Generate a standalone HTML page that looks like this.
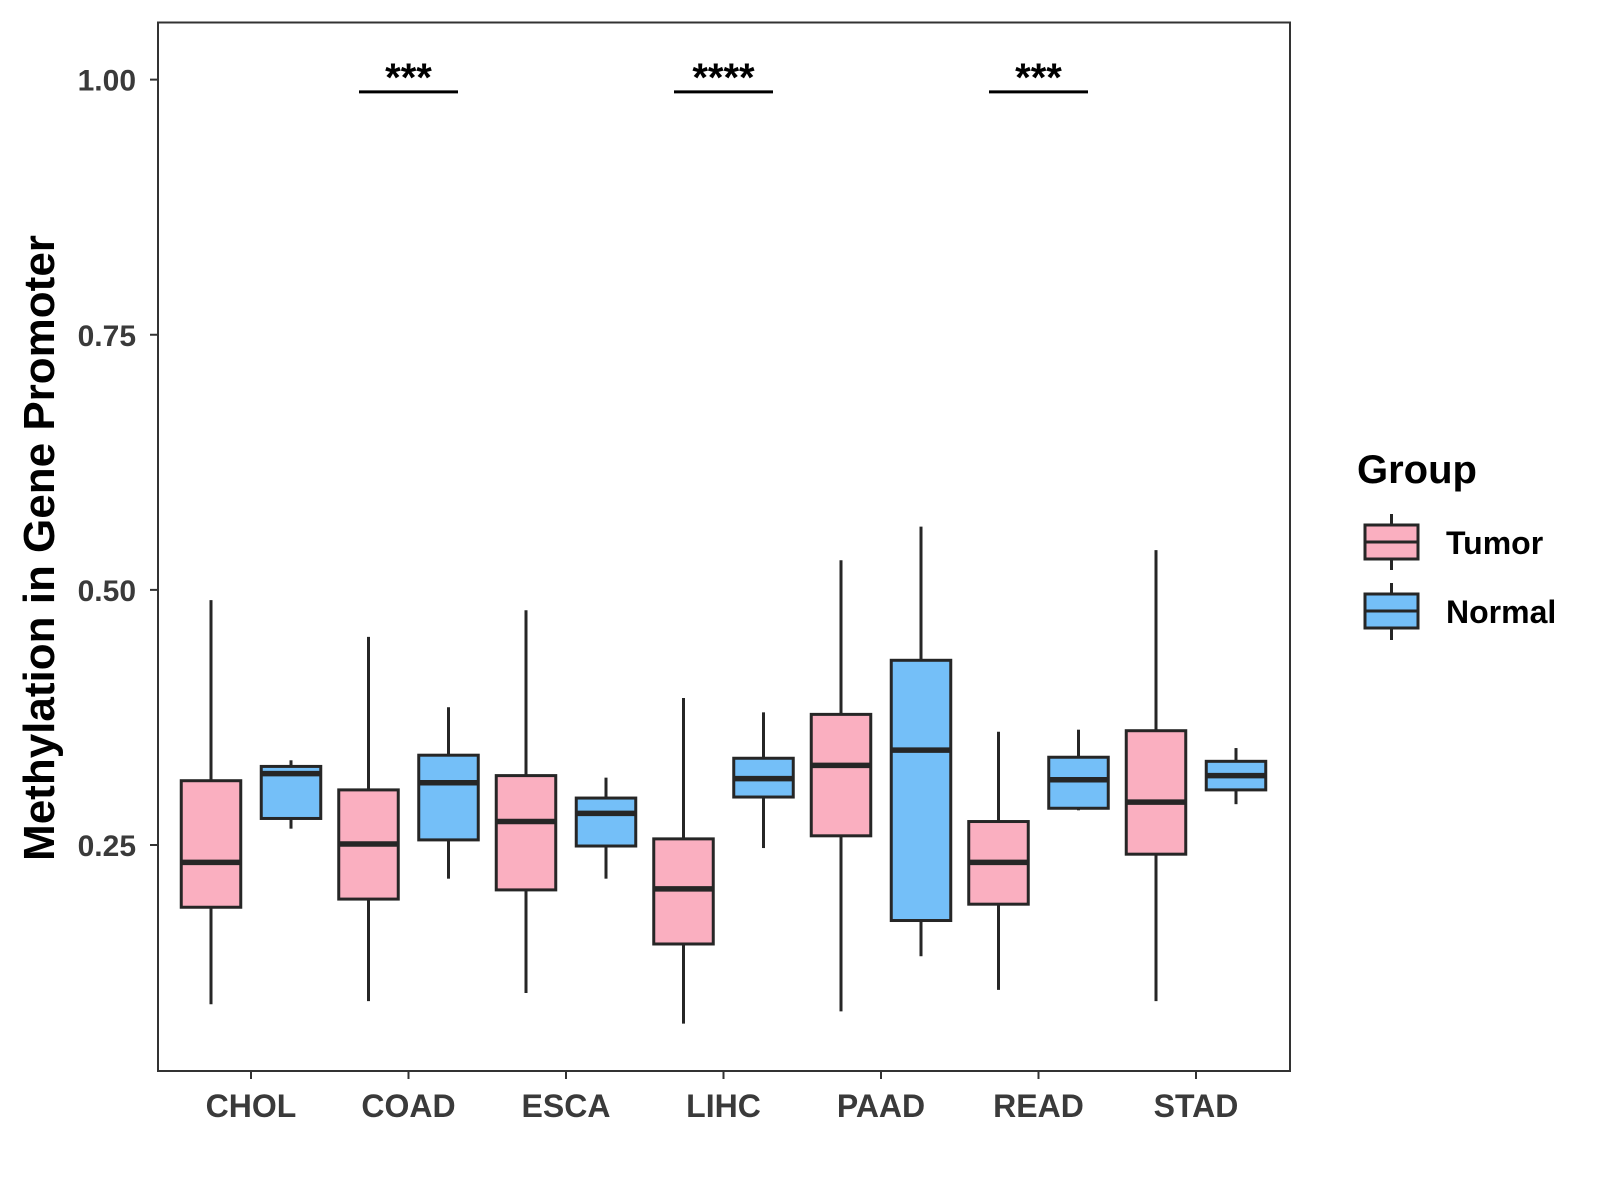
<!DOCTYPE html>
<html><head><meta charset="utf-8"><style>body{margin:0;background:#fff}svg{display:block}text{font-family:"Liberation Sans",Arial,sans-serif;font-weight:bold}</style></head>
<body>
<svg id="chart" width="1600" height="1200">
<g id="plot"></g>
</svg>
<script>
const categories=["CHOL","COAD","ESCA","LIHC","PAAD","READ","STAD"];
// [low, q1, median, q3, high]
const tumorStats=[[0.094,0.189,0.233,0.313,0.49],[0.097,0.197,0.251,0.304,0.454],[0.105,0.206,0.273,0.318,0.48],[0.075,0.153,0.207,0.256,0.394],[0.087,0.259,0.328,0.378,0.529],[0.108,0.192,0.233,0.273,0.361],[0.097,0.241,0.292,0.362,0.539]];
const normalStats=[[0.266,0.276,0.32,0.327,0.333],[0.217,0.255,0.311,0.338,0.385],[0.217,0.249,0.281,0.296,0.316],[0.247,0.297,0.315,0.335,0.38],[0.141,0.176,0.343,0.431,0.562],[0.284,0.286,0.314,0.336,0.363],[0.29,0.304,0.318,0.332,0.345]];
const yTicks=[0.25,0.5,0.75,1.0];
const yTickLabels=["0.25","0.50","0.75","1.00"];
const sigCategories=["COAD","LIHC","READ"];
const sigLabels=["***","****","***"];
const sigLevel=0.988;

const NS="http://www.w3.org/2000/svg";
const svg=document.getElementById('chart');
const L=158,T=22.5,R=1290,B=1071;
const y=v=>845-(v-0.25)*1020.5;
const x=i=>251+i*157.5;
const OFF=40,BW=59.5,STK="#262626";
function mk(tag,a,parent){const e=document.createElementNS(NS,tag);for(const k in a)e.setAttribute(k,a[k]);(parent||svg).appendChild(e);return e;}

const panel=mk('rect',{x:L,y:T,width:R-L,height:B-T,fill:'none',stroke:'#333','stroke-width':2});



yTicks.forEach((v,i)=>{
  const t=mk('line',{x1:L-8,x2:L,y1:y(v),y2:y(v),stroke:'#333','stroke-width':2});
  
  
  const l=mk('text',{x:L-22,y:y(v)+11,'text-anchor':'end','font-size':30,fill:'#3a3a3a'});
  l.textContent=yTickLabels[i];
  
  
});
categories.forEach((c,i)=>{
  const t=mk('line',{x1:x(i),x2:x(i),y1:B,y2:B+8,stroke:'#333','stroke-width':2});
  
  
  const l=mk('text',{x:x(i),y:1117,'text-anchor':'middle','font-size':32,fill:'#3a3a3a'});
  l.textContent=c;
  
  
});
function box(cx,s,fill,name){
  const g=mk('g',{});
  
  
  mk('line',{x1:cx,x2:cx,y1:y(s[4]),y2:y(s[3]),stroke:STK,'stroke-width':3},g);
  mk('line',{x1:cx,x2:cx,y1:y(s[1]),y2:y(s[0]),stroke:STK,'stroke-width':3},g);
  mk('rect',{x:cx-BW/2,y:y(s[3]),width:BW,height:y(s[1])-y(s[3]),fill:fill,stroke:STK,'stroke-width':3},g);
  mk('line',{x1:cx-BW/2,x2:cx+BW/2,y1:y(s[2]),y2:y(s[2]),stroke:STK,'stroke-width':5.5},g);
}
categories.forEach((c,i)=>{
  box(x(i)-OFF,tumorStats[i],'#FAAFC0','box-tumor-'+c.toLowerCase());
  box(x(i)+OFF,normalStats[i],'#74BFF8','box-normal-'+c.toLowerCase());
});
sigCategories.forEach((c,k)=>{
  const i=categories.indexOf(c);
  const ln=mk('line',{x1:x(i)-49.5,x2:x(i)+49.5,y1:y(sigLevel),y2:y(sigLevel),stroke:'#000','stroke-width':3});
  
  
  const t=mk('text',{x:x(i),y:y(sigLevel)-1,'text-anchor':'middle','font-size':40,fill:'#000'});
  t.textContent=sigLabels[k];
  
  
});
</script>
<svg style="position:absolute;left:0;top:0" width="1600" height="1200">
<text x="0" y="0" transform="translate(54,548) rotate(-90)" text-anchor="middle" font-size="44" fill="#000">Methylation in Gene Promoter</text>
<g>
<text x="1357" y="483" font-size="40" fill="#000">Group</text>
<g>
<line x1="1391.5" x2="1391.5" y1="514" y2="570" stroke="#262626" stroke-width="3"/>
<rect x="1365" y="525" width="53" height="34" fill="#FAAFC0" stroke="#262626" stroke-width="3"/>
<line x1="1365" x2="1418" y1="542" y2="542" stroke="#262626" stroke-width="3"/>
<text x="1446" y="554" font-size="32" fill="#000">Tumor</text>
</g>
<g>
<line x1="1391.5" x2="1391.5" y1="583" y2="640" stroke="#262626" stroke-width="3"/>
<rect x="1365" y="594" width="53" height="34" fill="#74BFF8" stroke="#262626" stroke-width="3"/>
<line x1="1365" x2="1418" y1="611" y2="611" stroke="#262626" stroke-width="3"/>
<text x="1446" y="623" font-size="32" fill="#000">Normal</text>
</g>
</g>
</svg>
</body></html>
